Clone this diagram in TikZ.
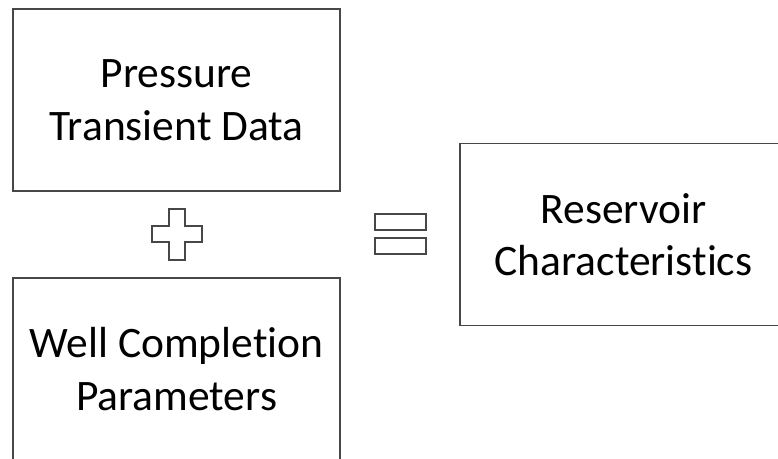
\documentclass[tikz,border=0pt]{standalone}
\usepackage{fontspec}
\setmainfont{Carlito}[RawFeature={-liga}]
\begin{document}
\begin{tikzpicture}[x=1pt,y=-1pt,
  outline/.style={draw=black!72,line width=1.6pt},
  box/.style={outline,fill=white,minimum width=327pt,minimum height=182pt,
    inner sep=0pt,align=center,text=black,
    font=\fontsize{43.5}{52.5}\selectfont}]
\useasboundingbox (0,0) rectangle (778,458);
\clip (0,0) rectangle (778,458);

% input boxes
\node[box] (pressure) at (176.5,100) {Pressure\\Transient Data};
\node[box] (well) at (176.5,369) {Well Completion\\Parameters};
% result box
\node[box] (reservoir) at (623.5,234.5) {Reservoir\\Characteristics};

% plus sign
\draw[outline,line join=miter] (169,209) -- (185,209) -- (185,226) -- (202,226)
  -- (202,242) -- (185,242) -- (185,260) -- (169,260) -- (169,242)
  -- (152,242) -- (152,226) -- (169,226) -- cycle;

% equals sign
\draw[outline] (375,214) rectangle (426,230);
\draw[outline] (375,238) rectangle (426,254);
\end{tikzpicture}
\end{document}
